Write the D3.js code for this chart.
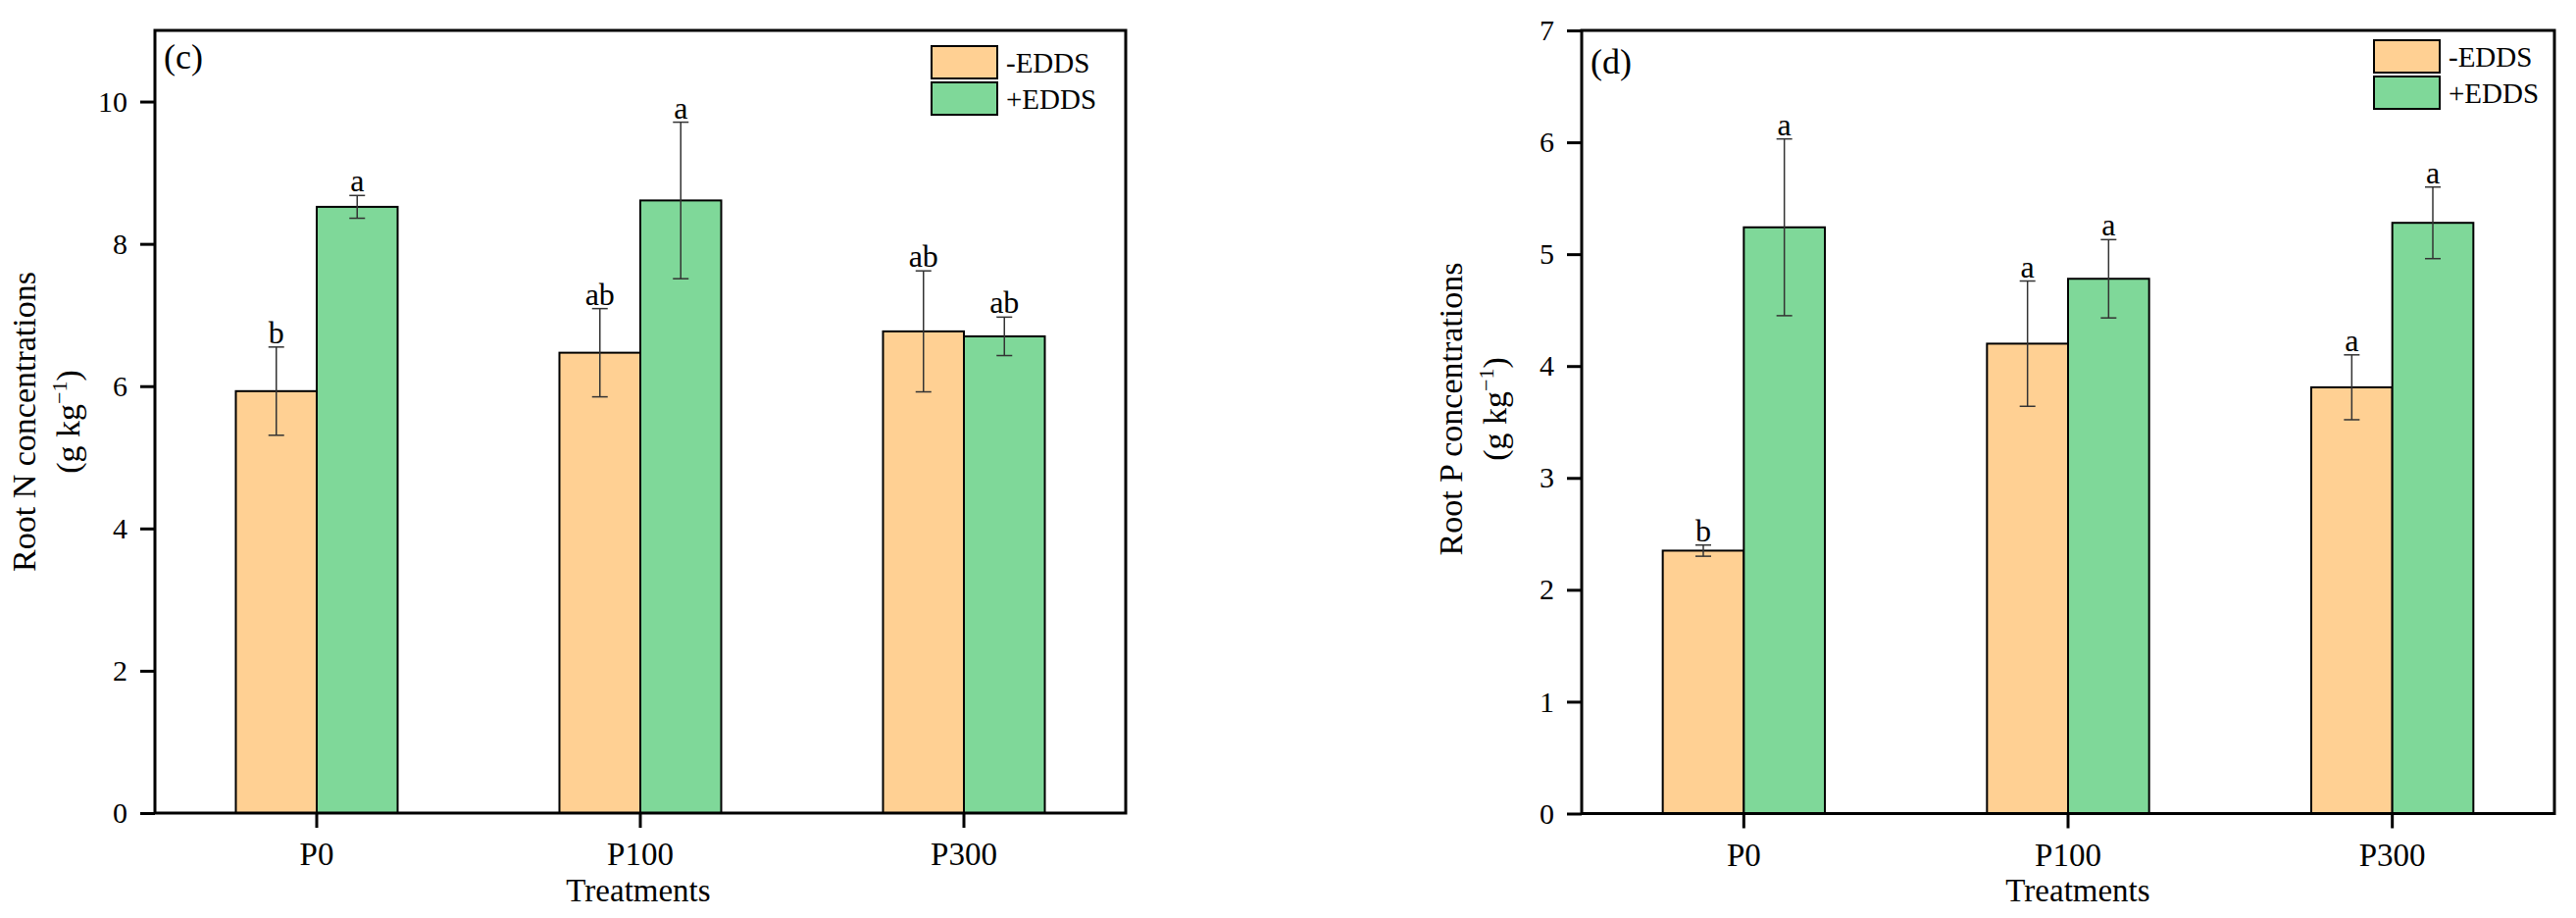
<!DOCTYPE html>
<html>
<head>
  <meta charset="utf-8">
  <title>Root N and P concentrations</title>
  <script src="https://d3js.org/d3.v7.min.js"></script>
  <style>
    body { margin: 0; background: #fff; }
    text { font-family: "Liberation Serif", "Times New Roman", serif; fill: #000; }
    .axis path { display: none; }
    .axis line { stroke: #000; stroke-width: 3px; }
    .axis text { font-family: "Liberation Serif", "Times New Roman", serif; fill: #000; }
    .bar { stroke: #000; stroke-width: 2px; }
    .err { stroke: #333; stroke-width: 1.5px; fill: none; }
    .frame { fill: none; stroke: #000; stroke-width: 3px; }
  </style>
</head>
<body>
  <svg width="2627" height="936"></svg>

  <script>
    // shared categories
    const treatments = ["P0", "P100", "P300"];
    const series = ["-EDDS", "+EDDS"];
    const colors = ["#FFD093", "#7FD899"];

    // panel (c): root N, g/kg
    const nMinus = [5.93, 6.47, 6.77];
    const nMinusSE = [0.62, 0.62, 0.85];
    const nPlus = [8.52, 8.61, 6.70];
    const nPlusSE = [0.16, 1.10, 0.27];
    const nMinusSig = ["b", "ab", "ab"];
    const nPlusSig = ["a", "a", "ab"];
    const nTicks = [0, 2, 4, 6, 8, 10];

    // panel (d): root P, g/kg
    const pMinus = [2.35, 4.20, 3.81];
    const pMinusSE = [0.05, 0.56, 0.29];
    const pPlus = [5.24, 4.78, 5.28];
    const pPlusSE = [0.79, 0.35, 0.32];
    const pMinusSig = ["b", "a", "a"];
    const pPlusSig = ["a", "a", "a"];
    const pTicks = [0, 1, 2, 3, 4, 5, 6, 7];

    const svg = d3.select("svg");

    function drawPanel(p) {
      const g = svg.append("g");

      const x = d3.scaleBand().domain(treatments).range([p.left, p.right]);
      const x1 = d3.scaleBand().domain(series)
        .range([x.bandwidth() / 4, x.bandwidth() * 3 / 4]);
      const y = d3.scaleLinear().domain([0, p.ymax]).range([p.bottom, p.top]);

      // rows: one per treatment x series
      const rows = [];
      treatments.forEach((t, i) => {
        rows.push({ t, s: series[0], v: p.minus[i], se: p.minusSE[i], sig: p.minusSig[i], c: colors[0] });
        rows.push({ t, s: series[1], v: p.plus[i], se: p.plusSE[i], sig: p.plusSig[i], c: colors[1] });
      });

      g.selectAll(".bar")
        .data(rows)
        .enter().append("rect")
        .attr("class", "bar")
        .attr("x", d => x(d.t) + x1(d.s))
        .attr("y", d => y(d.v))
        .attr("width", x1.bandwidth())
        .attr("height", d => y(0) - y(d.v))
        .attr("fill", d => d.c);

      // error bars
      const cx = d => x(d.t) + x1(d.s) + x1.bandwidth() / 2;
      const eb = g.selectAll(".eb").data(rows).enter().append("g");
      eb.append("line").attr("class", "err")
        .attr("x1", cx).attr("x2", cx)
        .attr("y1", d => y(d.v + d.se)).attr("y2", d => y(d.v - d.se));
      eb.append("line").attr("class", "err")
        .attr("x1", d => cx(d) - 8).attr("x2", d => cx(d) + 8)
        .attr("y1", d => y(d.v + d.se)).attr("y2", d => y(d.v + d.se));
      eb.append("line").attr("class", "err")
        .attr("x1", d => cx(d) - 8).attr("x2", d => cx(d) + 8)
        .attr("y1", d => y(d.v - d.se)).attr("y2", d => y(d.v - d.se));

      // significance letters
      g.selectAll(".sig")
        .data(rows)
        .enter().append("text")
        .attr("x", cx)
        .attr("y", d => y(d.v + d.se) - 4)
        .attr("text-anchor", "middle")
        .attr("font-size", "32px")
        .text(d => d.sig);

      // axes
      g.append("g")
        .attr("class", "axis")
        .attr("transform", `translate(${p.left},0)`)
        .call(d3.axisLeft(y).tickValues(p.ticks).tickFormat(d3.format("d"))
          .tickSize(15).tickPadding(13))
        .selectAll("text").attr("font-size", "30px");

      g.append("g")
        .attr("class", "axis")
        .attr("transform", `translate(0,${p.bottom})`)
        .call(d3.axisBottom(x).tickSize(15))
        .selectAll("text")
        .attr("font-size", "33px")
        .attr("y", 53)
        .attr("dy", 0);

      g.append("rect")
        .attr("class", "frame")
        .attr("x", p.left)
        .attr("y", p.top)
        .attr("width", p.right - p.left)
        .attr("height", p.bottom - p.top);

      // panel letter
      g.append("text")
        .attr("x", p.left + 9)
        .attr("y", p.labelY)
        .attr("font-size", "36px")
        .text(p.label);

      // legend
      series.forEach((s, i) => {
        g.append("rect")
          .attr("x", p.legX)
          .attr("y", p.legY + i * 37)
          .attr("width", 67)
          .attr("height", 33)
          .attr("fill", colors[i])
          .attr("stroke", "#000")
          .attr("stroke-width", 2);
        g.append("text")
          .attr("x", p.legX + 76)
          .attr("y", p.legY + i * 37 + 27)
          .attr("font-size", "29px")
          .text(s);
      });

      // y title, two lines
      const yt = g.append("text")
        .attr("transform", `translate(${p.left - 122},${p.titleY}) rotate(-90)`)
        .attr("text-anchor", "middle")
        .attr("font-size", "34px");
      yt.text(p.yTitle);

      const yu = g.append("text")
        .attr("transform", `translate(${p.left - 77},${p.titleY}) rotate(-90)`)
        .attr("text-anchor", "middle")
        .attr("font-size", "34px");
      yu.append("tspan").text("(g kg");
      yu.append("tspan").attr("font-size", "22px").attr("dy", -13).text("\u22121");
      yu.append("tspan").attr("dy", 13).text(")");

      // x title
      g.append("text")
        .attr("x", p.xTitleX)
        .attr("y", 919)
        .attr("text-anchor", "middle")
        .attr("font-size", "33px")
        .text("Treatments");
    }

    drawPanel({
      left: 158, right: 1148, top: 31, bottom: 829, ymax: 11,
      minus: nMinus, minusSE: nMinusSE, minusSig: nMinusSig,
      plus: nPlus, plusSE: nPlusSE, plusSig: nPlusSig,
      ticks: nTicks, label: "(c)", labelY: 70,
      legX: 950, legY: 47,
      yTitle: "Root N concentrations", titleY: 430, xTitleX: 651
    });

    drawPanel({
      left: 1613, right: 2605, top: 31, bottom: 829.5, ymax: 7,
      minus: pMinus, minusSE: pMinusSE, minusSig: pMinusSig,
      plus: pPlus, plusSE: pPlusSE, plusSig: pPlusSig,
      ticks: pTicks, label: "(d)", labelY: 75,
      legX: 2421, legY: 41,
      yTitle: "Root P concentrations", titleY: 417, xTitleX: 2119
    });
  </script>
</body>
</html>
